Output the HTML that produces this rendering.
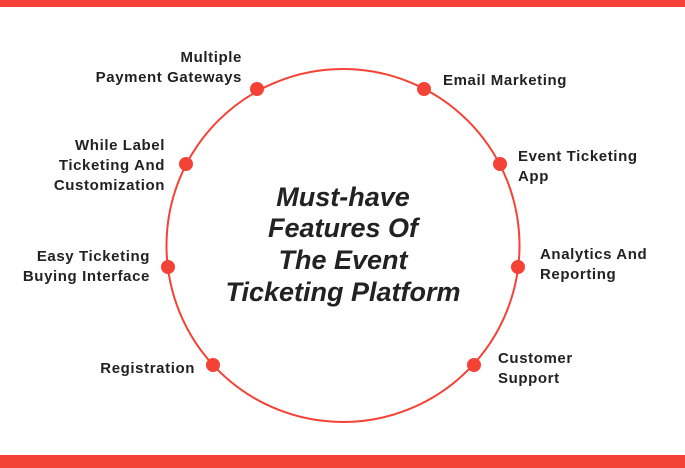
<!DOCTYPE html>
<html><head><style>
html,body{margin:0;padding:0;background:#fff;}
svg{display:block}
text{font-family:"Liberation Sans",sans-serif;fill:#222;}
.l{font-size:15px;font-weight:bold;letter-spacing:0.6px;}
.t{font-size:27px;font-weight:bold;font-style:italic;}
</style></head><body>
<svg width="685" height="468" viewBox="0 0 685 468">
<rect x="0" y="0" width="685" height="7" fill="#f44336"/>
<rect x="0" y="455" width="685" height="13" fill="#f44336"/>
<circle cx="343" cy="245.5" r="176.5" fill="none" stroke="#f44336" stroke-width="2"/>
<g fill="#f44336">
<circle cx="257" cy="89" r="7"/><circle cx="424" cy="89" r="7"/>
<circle cx="186" cy="164" r="7"/><circle cx="500" cy="164" r="7"/>
<circle cx="168" cy="267" r="7"/><circle cx="518" cy="267" r="7"/>
<circle cx="213" cy="365" r="7"/><circle cx="474" cy="365" r="7"/>
</g>
<g text-anchor="end">
<text class="l" x="242" y="62">Multiple</text>
<text class="l" x="242" y="82">Payment Gateways</text>
<text class="l" x="165" y="150">While Label</text>
<text class="l" x="165" y="170">Ticketing And</text>
<text class="l" x="165" y="190">Customization</text>
<text class="l" x="150" y="261">Easy Ticketing</text>
<text class="l" x="150" y="281">Buying Interface</text>
<text class="l" x="195" y="373">Registration</text>
</g>
<g>
<text class="l" x="443" y="85">Email Marketing</text>
<text class="l" x="518" y="161">Event Ticketing</text>
<text class="l" x="518" y="181">App</text>
<text class="l" x="540" y="259">Analytics And</text>
<text class="l" x="540" y="279">Reporting</text>
<text class="l" x="498" y="363">Customer</text>
<text class="l" x="498" y="383">Support</text>
</g>
<g text-anchor="middle">
<text class="t" x="343" y="206">Must-have</text>
<text class="t" x="343" y="237">Features Of</text>
<text class="t" x="343" y="269">The Event</text>
<text class="t" x="343" y="301">Ticketing Platform</text>
</g>
</svg>
</body></html>
